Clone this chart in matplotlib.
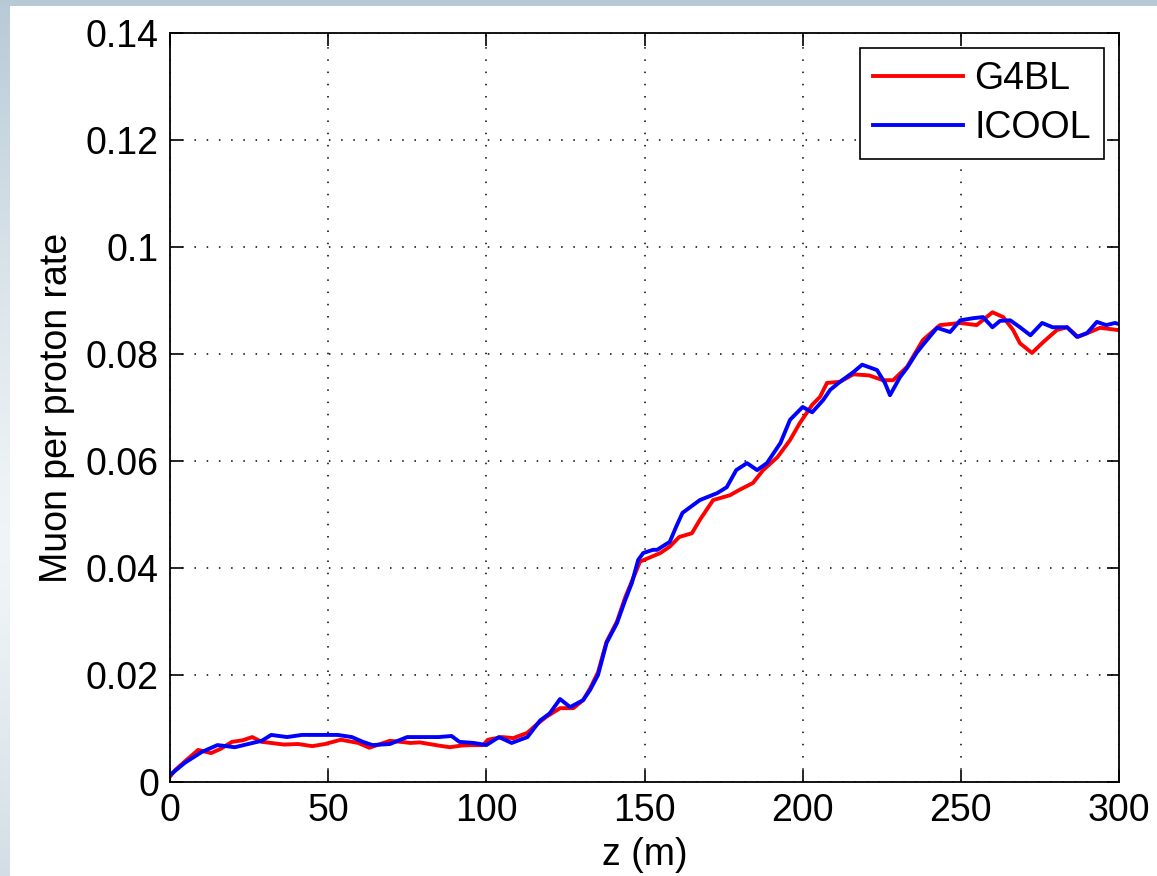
import numpy as np
import matplotlib
matplotlib.use("Agg")
import matplotlib.pyplot as plt

plt.rcParams["font.family"] = ["Liberation Sans", "DejaVu Sans"]

# muon yield along the channel, G4BL run
z_g4bl = [0, 1.6, 5, 8.9, 13, 16, 19.6, 23, 26, 29, 32, 36, 40.5, 45, 49, 54,
          59.5, 63, 66, 69.5, 73, 76, 79, 82, 85, 88.5, 92, 95, 99, 100.5, 105,
          108.5, 113, 116, 119, 123.3, 127.5, 130.6, 132.8, 135.3, 138, 141.3,
          143.9, 146, 148.6, 151, 155, 158, 161, 165, 167.5, 171.7, 177, 180,
          184.3, 187.5, 192, 196, 199, 203, 205.5, 207.7, 211.8, 216, 221,
          225.4, 228.6, 233, 238, 243.4, 249.8, 255, 260, 263.4, 266.5, 268.7,
          272.5, 276, 280.4, 283.6, 287, 290.8, 294, 299.4, 300]
rate_g4bl = [0.001, 0.0022, 0.004, 0.006, 0.0054, 0.0062, 0.0075, 0.0078,
             0.0084, 0.0075, 0.0073, 0.0070, 0.0071, 0.0067, 0.0071, 0.0079,
             0.0073, 0.0064, 0.0070, 0.0077, 0.0075, 0.0073, 0.0074, 0.0071,
             0.0068, 0.0065, 0.0068, 0.0069, 0.0069, 0.0079, 0.0084, 0.0082,
             0.0092, 0.0108, 0.0122, 0.0138, 0.0138, 0.0153, 0.0175, 0.0205,
             0.0262, 0.0300, 0.0345, 0.0375, 0.0412, 0.0418, 0.0428, 0.0440,
             0.0458, 0.0465, 0.0490, 0.0527, 0.0536, 0.0546, 0.0559, 0.0583,
             0.0607, 0.0639, 0.0670, 0.0705, 0.0720, 0.0746, 0.0748, 0.0762,
             0.0760, 0.0751, 0.0751, 0.0776, 0.0826, 0.0854, 0.0858, 0.0854,
             0.0878, 0.0869, 0.0845, 0.0820, 0.0802, 0.0822, 0.0845, 0.0850,
             0.0832, 0.0841, 0.0849, 0.0845, 0.0845]

# same quantity from ICOOL
z_icool = [0, 4.7, 10, 15, 20.5, 24.7, 29, 32, 37, 41.7, 48, 53, 57.5, 61, 64,
           69.5, 75, 81, 85, 89, 91.5, 96, 100, 104, 108, 113, 117, 120, 123.3,
           126.5, 130.6, 132.8, 135.3, 138, 141.3, 143.9, 146, 148, 149.6,
           152.7, 154, 158, 160, 162, 167.5, 173, 176, 179, 182.4, 185.6,
           188.7, 193, 196, 200, 203, 206.5, 208.7, 211.8, 216, 218.8, 223.5,
           226, 227.6, 230.8, 233, 236, 238, 242.5, 246.6, 249.8, 254, 257, 260,
           262.4, 265.6, 268.7, 272, 275.7, 279, 283.6, 286.7, 289.9, 293, 296,
           298.7, 300]
rate_icool = [0.0013, 0.0036, 0.0056, 0.0069, 0.0065, 0.0071, 0.0077, 0.0088,
              0.0084, 0.0088, 0.0088, 0.0088, 0.0084, 0.0075, 0.0069, 0.0071,
              0.0084, 0.0084, 0.0084, 0.0086, 0.0075, 0.0073, 0.0069, 0.0084,
              0.0073, 0.0084, 0.0115, 0.0128, 0.0155, 0.0140, 0.0153, 0.0172,
              0.0200, 0.0260, 0.0297, 0.0340, 0.0372, 0.0415, 0.0428, 0.0434,
              0.0434, 0.0449, 0.0477, 0.0503, 0.0527, 0.0540, 0.0551, 0.0583,
              0.0596, 0.0583, 0.0596, 0.0634, 0.0677, 0.0701, 0.0691, 0.0714,
              0.0733, 0.0748, 0.0766, 0.0780, 0.0770, 0.0746, 0.0723, 0.0757,
              0.0774, 0.0802, 0.0817, 0.0849, 0.0841, 0.0863, 0.0867, 0.0869,
              0.0850, 0.0862, 0.0863, 0.0850, 0.0835, 0.0858, 0.0850, 0.0850,
              0.0832, 0.0839, 0.0860, 0.0854, 0.0858, 0.0856]

x_ticks = [0, 50, 100, 150, 200, 250, 300]
y_ticks = [0, 0.02, 0.04, 0.06, 0.08, 0.1, 0.12, 0.14]
y_ticklabels = ["0", "0.02", "0.04", "0.06", "0.08", "0.1", "0.12", "0.14"]

W, H = 1157, 876
fig = plt.figure(figsize=(W / 100, H / 100), dpi=100, facecolor="white")

# slide-style frame: blue strip on top, vertical gradient strip on the left
bg = fig.add_axes([0, 0, 1, 1], zorder=-10)
bg.set_axis_off()
bg.set_xlim(0, W)
bg.set_ylim(H, 0)
blue = np.array([0.72, 0.79, 0.84])
light = np.array([0.94, 0.96, 0.97])
rows = np.linspace(0, 1, H)
mix = np.clip(np.abs(rows - 0.62) / 0.62, 0, 1)[:, None] ** 1.3
strip = light * (1 - mix) + blue * mix
bg.imshow(strip[:, None, :], extent=[0, 10, H, 0], aspect="auto")
bg.fill_between([0, W], 0, 6, color=blue, lw=0)

ax = fig.add_axes([170 / W, 1 - 782 / H, 949 / W, 749 / H])
ax.plot(z_g4bl, rate_g4bl, color="#ff0000", lw=2.8, label="G4BL")
ax.plot(z_icool, rate_icool, color="#0000ff", lw=2.8, label="ICOOL")

ax.set_xlim(0, 300)
ax.set_ylim(0, 0.14)
ax.set_xticks(x_ticks)
ax.set_xticklabels([str(t) for t in x_ticks])
ax.set_yticks(y_ticks)
ax.set_yticklabels(y_ticklabels)
ax.tick_params(direction="in", length=9, width=1.2, labelsize=27,
               top=True, right=True, pad=8)
for s in ax.spines.values():
    s.set_linewidth(1.3)
ax.grid(True, color="k", linestyle=(0, (1, 7)), linewidth=1.1)

ax.set_xlabel("z (m)", fontsize=27, labelpad=6)
ax.set_ylabel("Muon per proton rate", fontsize=27, labelpad=8)

leg = ax.legend(loc="upper right", fontsize=27, frameon=True, fancybox=False,
                edgecolor="black", framealpha=1, handlelength=2.4,
                handletextpad=0.3, borderaxespad=0.4, labelspacing=0.35,
                borderpad=0.35)
leg.get_frame().set_linewidth(1.2)

fig.savefig("out.png", dpi=100)
